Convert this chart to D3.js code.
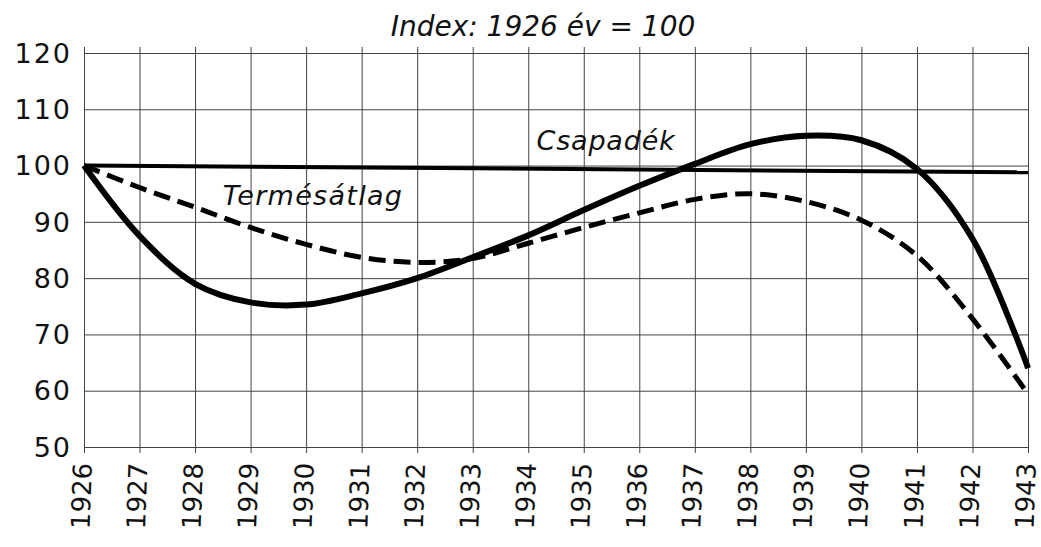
<!DOCTYPE html>
<html>
<head>
<meta charset="utf-8">
<script src="https://cdn.jsdelivr.net/npm/d3@7"></script>
<style>
  body { margin: 0; background: #fff; }
  text { font-family: "DejaVu Sans", sans-serif; fill: #111; }
</style>
</head>
<body>
<div id="chart"></div>
<script>
// years on the x axis
var years = [1926, 1927, 1928, 1929, 1930, 1931, 1932, 1933, 1934,
             1935, 1936, 1937, 1938, 1939, 1940, 1941, 1942, 1943];

// solid curve
var csapadek = [100, 87.5, 79, 75.7, 75.3, 77.3, 80, 83.7, 87.6,
                92.1, 96.4, 100.3, 103.8, 105.3, 104.5, 99.4, 87, 64];

// dashed curve
var termesatlag = [100, 96.1, 92.6, 89, 86, 83.7, 82.8, 83.5, 86.2,
                   89, 91.6, 94, 95, 93.6, 90.3, 84, 72.8, 59.4];

// straight line, start and end
var alapYears = [1926, 1943];
var alapvonal = [100, 98.8];

var yTicks = [50, 60, 70, 80, 90, 100, 110, 120];

var margin = { top: 53, left: 84, right: 13, bottom: 100 },
  width = 1041 - margin.left - margin.right,
  height = 547 - margin.top - margin.bottom;

var svg = d3.select("#chart").append("svg")
  .attr("width", 1041)
  .attr("height", 547);

var g = svg.append("g")
  .attr("transform", "translate(" + margin.left + "," + margin.top + ")");

var x = d3.scaleLinear().domain([1926, 1943]).range([0, width]);
var y = d3.scaleLinear().domain([50, 120]).range([height, 0]);

// grid
g.append("g")
  .call(d3.axisLeft(y).tickValues(yTicks).tickSize(-width).tickFormat(""))
  .call(a => a.select(".domain").remove())
  .selectAll("line").attr("stroke", "#444").attr("stroke-width", 1);

g.append("g")
  .attr("transform", "translate(0," + height + ")")
  .call(d3.axisBottom(x).tickValues(years).tickSize(-height - 6).tickFormat(""))
  .call(a => a.select(".domain").remove())
  .selectAll("line").attr("stroke", "#444").attr("stroke-width", 1)
  .attr("y1", 6);

// y labels
g.selectAll(".ylab")
  .data(yTicks)
  .enter().append("text")
  .attr("class", "ylab")
  .attr("x", -12)
  .attr("y", d => y(d))
  .attr("dy", "0.36em")
  .attr("text-anchor", "end")
  .attr("font-size", 27)
  .attr("letter-spacing", 2)
  .text(d => d);

// x labels, rotated
g.selectAll(".xlab")
  .data(years)
  .enter().append("text")
  .attr("class", "xlab")
  .attr("transform", d => "translate(" + x(d) + "," + (height + 16) + ") rotate(-88)")
  .attr("dy", "0.3em")
  .attr("text-anchor", "end")
  .attr("font-size", 26)
  .text(d => d);

var line = d3.line()
  .x(d => x(d[0]))
  .y(d => y(d[1]))
  .curve(d3.curveCatmullRom.alpha(0.5));

g.append("path")
  .datum(alapYears.map((yr, i) => [yr, alapvonal[i]]))
  .attr("d", d3.line().x(d => x(d[0])).y(d => y(d[1])))
  .attr("fill", "none")
  .attr("stroke", "#000")
  .attr("stroke-width", 4);

g.append("path")
  .datum(years.map((yr, i) => [yr, termesatlag[i]]))
  .attr("d", line)
  .attr("fill", "none")
  .attr("stroke", "#000")
  .attr("stroke-width", 5)
  .attr("stroke-dasharray", "17,8");

g.append("path")
  .datum(years.map((yr, i) => [yr, csapadek[i]]))
  .attr("d", line)
  .attr("fill", "none")
  .attr("stroke", "#000")
  .attr("stroke-width", 6)
  .attr("stroke-linejoin", "round");

// labels on the chart
g.append("text")
  .attr("x", x(1934.15))
  .attr("y", y(102.7))
  .attr("font-size", 27)
  .attr("font-style", "italic")
  .attr("letter-spacing", 0.8)
  .text("Csapadék");

g.append("text")
  .attr("x", x(1928.5))
  .attr("y", y(93.0))
  .attr("font-size", 27)
  .attr("font-style", "italic")
  .attr("letter-spacing", 1.3)
  .text("Termésátlag");

svg.append("text")
  .attr("x", 543)
  .attr("y", 36)
  .attr("text-anchor", "middle")
  .attr("font-size", 28)
  .attr("font-style", "italic")
  .text("Index: 1926 év = 100");
</script>
</body>
</html>
